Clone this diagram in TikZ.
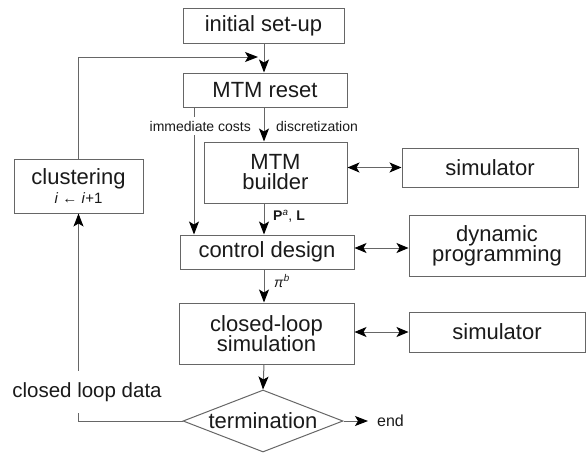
\documentclass[tikz,border=0pt]{standalone}
\usepackage{fontspec}
\setmainfont{Liberation Sans}
\usetikzlibrary{arrows.meta,shapes.geometric,calc}
\definecolor{linegray}{HTML}{666666}
\definecolor{ink}{HTML}{1A1A1A}
\begin{document}
\begin{tikzpicture}[x=1pt,y=-1pt,
  every node/.style={text=ink},
  block/.style={draw=linegray,line width=1pt,fill=white,inner sep=0pt,
    align=center,font=\fontsize{22}{23}\selectfont},
  lbl/.style={font=\fontsize{14}{16}\selectfont,inner sep=1pt},
  tip/.style={},
  flow/.style={draw=linegray,line width=1pt,
    -{Stealth[length=13pt,width=10pt,inset=3pt,color=black]}},
  link/.style={draw=linegray,line width=1pt,
    {Stealth[length=12pt,width=10pt,inset=3pt,color=black]}-{Stealth[length=12pt,width=10pt,inset=3pt,color=black]}},
  wire/.style={draw=linegray,line width=1pt}]
\useasboundingbox (0,0) rectangle (588,453);

% main chain
\node[block,minimum width=161pt,minimum height=35pt] (init) at (263.5,25.5) {initial set-up};
\node[block,minimum width=164pt,minimum height=34pt] (reset) at (265,90) {MTM reset};
\node[block,minimum width=143pt,minimum height=61pt] (builder) at (275.5,172.5) {MTM\\[-3pt]builder};
\node[block,minimum width=174pt,minimum height=34pt] (ctrl) at (267,252) {control design};
\node[block,minimum width=175pt,minimum height=61pt] (cls) at (266.5,333.5) {closed-loop\\[-3pt]simulation};
\node[block,shape=diamond,minimum width=160pt,minimum height=62pt,aspect=2.6] (term) at (263,421) {termination};

% side tools
\node[block,minimum width=176pt,minimum height=39pt] (sim1) at (490,167.5) {simulator};
\node[block,minimum width=176pt,minimum height=61pt] (dp) at (497,245.5) {dynamic\\[-3pt]programming};
\node[block,minimum width=176pt,minimum height=40pt] (sim2) at (497,332) {simulator};

% loop box
\node[block,minimum width=129pt,minimum height=54pt] (clu) at (78.5,186)
  {clustering\\[-4pt]{\fontsize{15}{16}\selectfont\textit{i} ← \textit{i}+1}};

\node[lbl,font=\fontsize{16}{17}\selectfont,anchor=west,inner sep=0pt] (end) at (377,421) {end};

% helper points
\coordinate (spine) at (264,0);
\coordinate (cost) at (194,0);
\coordinate (merge) at (258,57);

% vertical flow
\draw[flow] (init.south -| spine) -- (reset.north -| spine);
\draw[flow] (reset.south -| spine) -- (builder.north -| spine);
\draw[flow] (builder.south -| spine) -- (ctrl.north -| spine);
\draw[flow] (ctrl.south -| spine) -- (cls.north -| spine);
\draw[flow] (cls.south -| spine) -- (term.north);
\draw[flow,shorten >=9pt] (term.east) -- (end.west);

% immediate costs branch
\draw[flow] (reset.south -| cost) -- (ctrl.north -| cost);
\node[lbl,fill=white,inner ysep=4pt,anchor=east] (imm) at (252,126) {immediate costs};
\node[lbl,anchor=west] (disc) at (275,126) {discretization};
\node[lbl,anchor=west] (pl) at (272,216) {\textbf{P}\textsuperscript{\textit{a}}, \textbf{L}};
\node[lbl,anchor=west] (pib) at (273,281) {\textit{π}\textsuperscript{\textit{b}}};

% tool links
\draw[link] (builder.east |- sim1.west) -- (sim1.west);
\draw[link] (ctrl.east |- 0,248) -- (dp.west |- 0,248);
\draw[link] (cls.east |- sim2.west) -- (sim2.west);

% iteration loop
\draw[flow] (term.west) -| (clu.south);
\node[fill=white,font=\fontsize{20.5}{22}\selectfont,inner xsep=0pt,inner ysep=11pt] (cld) at (87,392) {closed loop data};
\draw[flow] (clu.north) |- (merge);
\end{tikzpicture}
\end{document}
